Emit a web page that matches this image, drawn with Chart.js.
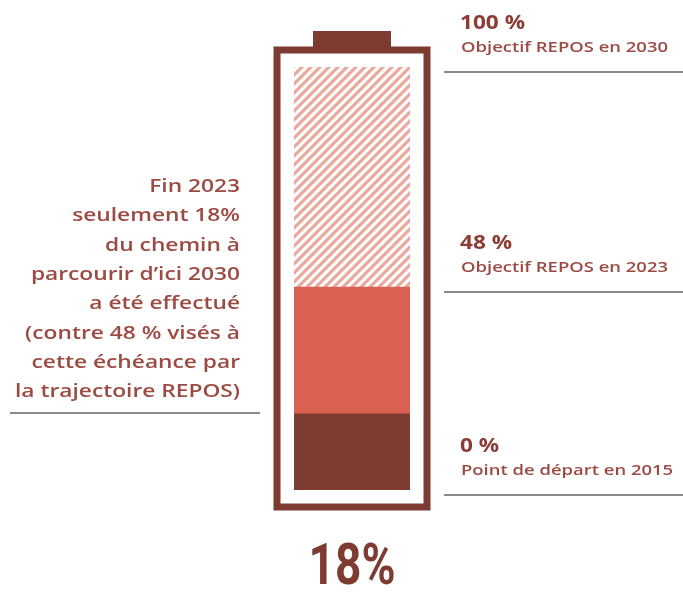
<!DOCTYPE html>
<html>
<head>
<meta charset="utf-8">
<script src="https://cdn.jsdelivr.net/npm/chart.js@4/dist/chart.umd.min.js"></script>
<style>
  body { margin: 0; background: #fff; }
  canvas { display: block; }
</style>
</head>
<body>
<canvas id="myChart" width="683" height="595"></canvas>
<script>
// Batterie : part du chemin parcouru vers l'objectif REPOS 2030
const categories = ['Trajectoire REPOS'];
const segmentLabels = ['Réalisé fin 2023', 'Objectif 2023 non atteint', 'Reste à faire d\'ici 2030'];
const segmentValues = [18, 30, 52]; // 18 + 30 = 48, 48 + 52 = 100
const markerValues = [100, 48, 0];
const markerTitles = ['100 %', '48 %', '0 %'];
const markerSubtitles = ['Objectif REPOS en 2030', 'Objectif REPOS en 2023', 'Point de départ en 2015'];
const bigLabel = '18%';
const sideText = [
    'Fin 2023',
    'seulement 18%',
    'du chemin à',
    'parcourir d\u2019ici 2030',
    'a été effectué',
    '(contre 48 % visés à',
    'cette échéance par',
    'la trajectoire REPOS)'
];

const DARK = '#7e3b32';
const RED = '#d96152';
const HATCH = '#eba99e';
const TEXT = '#8c3c35';
const SUB = '#9c4b43';
const RULE = '#8a8a8a';

// motif hachuré pour la partie restante
function makeHatch() {
    const s = 9;
    const c = document.createElement('canvas');
    c.width = s; c.height = s;
    const p = c.getContext('2d');
    p.fillStyle = '#fff';
    p.fillRect(0, 0, s, s);
    p.strokeStyle = HATCH;
    p.lineWidth = 3.2;
    p.beginPath();
    // droites x + y = k, répétées pour que le motif se raccorde
    [0, s, 2 * s].forEach(k => {
        p.moveTo(-s, k + s);
        p.lineTo(2 * s, k - 2 * s);
    });
    p.stroke();
    return p.createPattern(c, 'repeat');
}

// texte élargi horizontalement (la police d'origine est très large)
function wideText(ctx, text, x, y, align, sx) {
    ctx.save();
    ctx.translate(x, y);
    ctx.scale(sx, 1);
    ctx.textAlign = align;
    ctx.fillText(text, 0, 0);
    ctx.restore();
}

const batteryPlugin = {
    id: 'battery',
    beforeDatasetsDraw(chart) {
        const ctx = chart.ctx;
        const a = chart.chartArea;
        ctx.save();
        ctx.strokeStyle = DARK;
        ctx.lineWidth = 7;
        ctx.strokeRect(a.left - 17, a.top - 17, (a.right - a.left) + 34, (a.bottom - a.top) + 34);
        const cx = (a.left + a.right) / 2;
        ctx.fillStyle = DARK;
        ctx.fillRect(cx - 39, a.top - 36, 78, 17);
        ctx.restore();
    },
    afterDraw(chart) {
        const ctx = chart.ctx;
        const a = chart.chartArea;
        const y = chart.scales.y;
        ctx.save();

        // repères à droite
        ctx.font = '700 20px "Open Sans"';
        const sxTitle = 65 / ctx.measureText(markerTitles[0]).width;
        ctx.font = '600 15px "Open Sans"';
        const sxSub = 207 / ctx.measureText(markerSubtitles[0]).width;
        markerValues.forEach((v, i) => {
            const py = y.getPixelForValue(v);
            ctx.fillStyle = TEXT;
            ctx.font = '700 20px "Open Sans"';
            wideText(ctx, markerTitles[i], 460, py - 38, 'left', sxTitle);
            ctx.fillStyle = SUB;
            ctx.font = '600 15px "Open Sans"';
            wideText(ctx, markerSubtitles[i], 461, py - 15, 'left', sxSub);
            ctx.strokeStyle = RULE;
            ctx.lineWidth = 2;
            ctx.beginPath();
            ctx.moveTo(444, py + 5);
            ctx.lineTo(683, py + 5);
            ctx.stroke();
        });

        // texte à gauche
        ctx.fillStyle = SUB;
        ctx.font = '600 18.5px "Open Sans"';
        const sxSide = 225 / ctx.measureText(sideText[7]).width;
        sideText.forEach((t, i) => {
            wideText(ctx, t, a.left - 54, a.top + 125 + i * 29.3, 'right', sxSide);
        });
        ctx.strokeStyle = RULE;
        ctx.lineWidth = 2;
        ctx.beginPath();
        ctx.moveTo(10, 413);
        ctx.lineTo(260, 413);
        ctx.stroke();

        // grand pourcentage sous la batterie
        ctx.font = '700 58px Roboto';
        ctx.fillStyle = DARK;
        const w = ctx.measureText(bigLabel).width;
        const cx = (a.left + a.right) / 2;
        wideText(ctx, bigLabel, cx - 43.5, a.bottom + 94, 'left', 87 / w);
        ctx.restore();
    }
};

const ctx = document.getElementById('myChart').getContext('2d');
const myChart = new Chart(ctx, {
    type: 'bar',
    data: {
        labels: categories,
        datasets: [
            { label: segmentLabels[0], data: [segmentValues[0]], backgroundColor: DARK },
            { label: segmentLabels[1], data: [segmentValues[1]], backgroundColor: RED },
            { label: segmentLabels[2], data: [segmentValues[2]], backgroundColor: makeHatch() }
        ]
    },
    options: {
        responsive: false,
        animation: false,
        layout: { padding: { top: 67, bottom: 105, left: 294, right: 273 } },
        datasets: { bar: { barPercentage: 1, categoryPercentage: 1, borderWidth: 0 } },
        plugins: { legend: { display: false }, tooltip: { enabled: false } },
        scales: {
            x: { stacked: true, display: false },
            y: { stacked: true, display: false, min: 0, max: 100 }
        }
    },
    plugins: [batteryPlugin]
});
</script>
</body>
</html>
